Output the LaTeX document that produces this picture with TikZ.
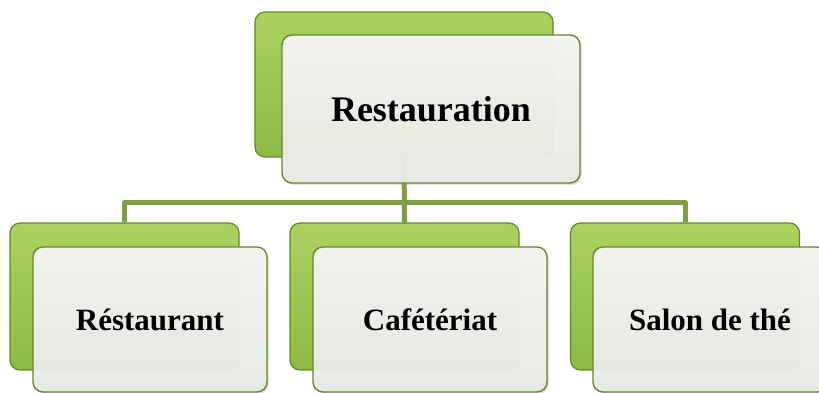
\documentclass[tikz,border=0pt]{standalone}
\usepackage{fontspec}
\setmainfont{Liberation Serif}
\usetikzlibrary{shadows}
\definecolor{greentop}{HTML}{AAD260}
\definecolor{greenbot}{HTML}{8CBA44}
\definecolor{boxedge}{HTML}{628829}
\definecolor{papertop}{HTML}{F5F6F2}
\definecolor{paperbot}{HTML}{E8EAE4}
\definecolor{linkgreen}{HTML}{7D9E42}
\tikzset{
  backbox/.style={rectangle,rounded corners=10pt,draw=boxedge,line width=1.2pt,
    top color=greentop,bottom color=greenbot,minimum width=229pt,minimum height=147pt},
  frontbox/.style={rectangle,rounded corners=10pt,draw=boxedge,line width=1.4pt,
    top color=papertop,bottom color=paperbot,fill opacity=0.96,text opacity=1,
    drop shadow={opacity=0.25,shadow xshift=2pt,shadow yshift=-2pt},
    minimum width=234pt,minimum height=145pt,font=\bfseries\fontsize{31}{36}\selectfont},
  link/.style={draw=linkgreen,line width=5pt},
  every picture/.style={line cap=butt,line join=round}
}

\begin{document}
\begin{tikzpicture}[x=1pt,y=1pt]
  \useasboundingbox (0,0) rectangle (819,393);
  % green boxes at the back
  \node[backbox,minimum width=298pt,minimum height=145pt] (topback) at (404,308.5) {};
  \node[backbox] (leftback) at (124.5,96.5) {};
  \node[backbox] (midback) at (404.5,96.5) {};
  \node[backbox] (rightback) at (685,96.5) {};
  % connectors
  \draw[link] (topback.south) -- (midback.north);
  \draw[link] (leftback.north) -- ++(0,20) -| (rightback.north);
  % white boxes in front
  \node[frontbox,minimum width=298pt,minimum height=148pt,
    font=\bfseries\fontsize{36}{42}\selectfont] (top) at (431,284) {Restauration};
  \node[frontbox] (resto) at (150,73.5) {Réstaurant};
  \node[frontbox] (cafe) at (430,73.5) {Cafétériat};
  \node[frontbox] (salon) at (710,73.5) {Salon de thé};
\end{tikzpicture}
\end{document}
